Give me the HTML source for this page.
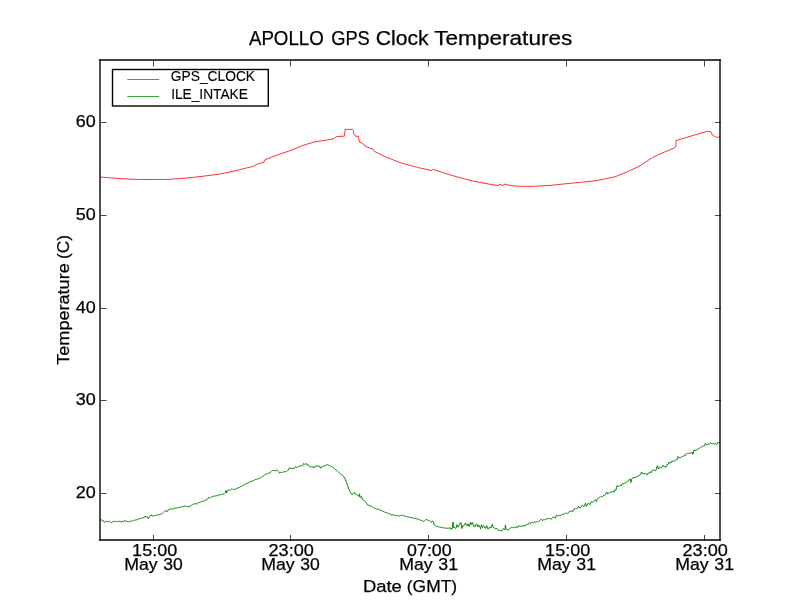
<!DOCTYPE html>
<html><head><meta charset="utf-8"><title>APOLLO GPS Clock Temperatures</title>
<style>
html,body{margin:0;padding:0;background:#fff;}
body{width:800px;height:600px;overflow:hidden;}
svg{display:block;}
text{font-family:"Liberation Sans",sans-serif;fill:#000;stroke:#000;stroke-width:0.25px;white-space:pre;}
.t{will-change:opacity;filter:grayscale(1);}
</style></head>
<body>
<svg width="800" height="600" viewBox="0 0 800 600">
<rect x="0" y="0" width="800" height="600" fill="#ffffff"/>
<clipPath id="c"><rect x="100" y="60" width="620" height="480"/></clipPath>
<g clip-path="url(#c)" fill="none" stroke-linejoin="round" stroke-linecap="butt">
<polyline stroke="#ff0000" stroke-width="0.8" points="100.00,177.00 110.00,177.80 120.00,178.60 136.00,179.40 150.00,179.50 168.00,179.40 185.00,178.20 200.00,176.60 220.00,174.00 236.00,170.60 252.00,166.60 254.00,166.00 258.00,163.80 264.00,162.20 265.00,159.80 272.00,157.00 280.00,154.00 292.00,150.00 303.00,145.40 314.00,142.00 324.00,140.40 333.00,139.00 335.00,137.60 337.00,136.60 344.30,136.20 345.20,129.40 352.50,129.40 353.50,130.50 353.60,133.50 355.50,136.20 358.30,136.40 359.50,142.20 362.50,143.30 365.00,146.00 371.00,148.50 373.00,149.20 374.40,151.40 380.00,154.20 386.00,157.00 393.00,159.80 400.00,162.60 410.00,165.40 420.00,168.00 431.00,170.40 432.00,170.50 433.00,169.40 435.00,170.00 444.00,173.00 454.00,176.00 463.00,178.50 473.00,181.00 485.00,183.40 498.00,185.60 499.60,184.40 503.00,185.40 505.00,184.00 507.00,184.80 516.00,186.20 530.00,186.40 540.00,186.00 550.00,185.40 565.00,183.80 580.00,182.40 595.00,180.80 605.00,179.00 615.00,176.80 628.00,171.50 640.00,165.80 652.50,157.50 660.00,154.00 665.00,151.80 673.80,148.20 675.80,146.20 676.20,140.50 690.00,136.40 700.00,133.40 707.50,131.20 710.80,131.80 712.50,135.00 716.20,137.30 720.00,137.00"/>
<polyline stroke="#008000" stroke-width="1.0" points="100.00,520.25 100.50,520.13 101.00,519.91 101.50,519.75 102.00,520.18 102.50,521.00 103.00,521.06 103.50,520.86 104.00,521.97 104.50,522.49 105.00,521.84 105.50,521.33 106.00,521.50 106.50,521.44 107.00,521.50 107.50,521.38 108.00,521.68 108.50,521.61 109.00,521.62 109.50,521.34 110.00,521.81 110.50,522.27 111.00,522.75 111.50,523.11 112.00,522.56 112.50,521.88 113.00,521.47 113.50,521.18 114.00,521.67 114.50,521.44 115.00,521.39 115.50,521.64 116.00,521.22 116.50,521.53 117.00,521.12 117.50,521.32 118.00,521.22 118.50,521.60 119.00,521.63 119.50,521.30 120.00,521.46 120.50,521.29 121.00,522.01 121.50,522.31 122.00,521.64 122.50,520.98 123.00,521.33 123.50,521.63 124.00,521.35 124.50,520.49 125.00,520.25 125.50,520.65 126.00,521.41 126.50,521.45 127.00,521.41 127.50,521.40 128.00,521.25 128.50,521.57 129.00,521.45 129.50,521.58 130.00,521.28 130.50,520.98 131.00,521.19 131.50,521.39 132.00,521.01 132.50,520.87 133.00,520.66 133.50,520.52 134.00,520.47 134.50,520.18 135.00,520.42 135.50,520.00 136.00,519.89 136.50,519.89 137.00,519.74 137.50,519.37 138.00,519.29 138.50,519.18 139.00,518.92 139.50,518.58 140.00,518.72 140.50,518.60 141.00,518.39 141.50,518.07 142.00,518.01 142.50,517.81 143.00,517.69 143.50,517.73 144.00,517.64 144.50,516.70 145.00,515.99 145.50,516.54 146.00,517.14 146.50,517.05 147.00,516.90 147.50,516.89 148.00,518.05 148.50,518.60 149.00,517.58 149.50,516.52 150.00,516.40 150.50,515.54 151.00,514.70 151.50,515.12 152.00,516.16 152.50,515.93 153.00,516.07 153.50,515.82 154.00,515.91 154.50,515.55 155.00,515.47 155.50,515.44 156.00,515.43 156.50,515.26 157.00,514.91 157.50,514.96 158.00,514.82 158.50,514.64 159.00,514.48 159.50,514.65 160.00,514.27 160.50,514.09 161.00,514.14 161.50,513.82 162.00,513.40 162.50,513.12 163.00,512.69 163.50,512.28 164.00,511.97 164.50,511.49 165.00,510.99 165.50,510.63 166.00,510.45 166.50,511.36 167.00,511.86 167.50,510.91 168.00,510.10 168.50,509.82 169.00,509.64 169.50,509.82 170.00,508.89 170.50,508.36 171.00,508.70 171.50,509.20 172.00,509.06 172.50,509.01 173.00,508.91 173.50,508.72 174.00,508.65 174.50,508.37 175.00,508.43 175.50,508.08 176.00,508.14 176.50,508.12 177.00,508.05 177.50,508.01 178.00,507.49 178.50,507.65 179.00,507.58 179.50,507.44 180.00,507.09 180.50,507.13 181.00,507.18 181.50,506.66 182.00,506.78 182.50,506.73 183.00,506.40 183.50,506.43 184.00,506.11 184.50,506.02 185.00,505.90 185.50,506.10 186.00,506.15 186.50,506.35 187.00,506.21 187.50,506.38 188.00,506.60 188.50,506.63 189.00,507.31 189.50,506.29 190.00,505.89 190.50,505.74 191.00,505.47 191.50,505.32 192.00,504.92 192.50,504.43 193.00,504.23 193.50,504.22 194.00,503.90 194.50,503.92 195.00,503.67 195.50,503.41 196.00,504.12 196.50,504.27 197.00,503.45 197.50,503.17 198.00,502.55 198.50,502.71 199.00,502.60 199.50,502.36 200.00,502.00 200.50,502.15 201.00,501.68 201.50,501.51 202.00,501.45 202.50,501.41 203.00,501.18 203.50,501.07 204.00,500.74 204.50,500.60 205.00,500.30 205.50,500.23 206.00,500.16 206.50,499.82 207.00,499.64 207.50,499.23 208.00,498.16 208.50,497.31 209.00,497.65 209.50,498.25 210.00,497.92 210.50,497.83 211.00,497.31 211.50,497.03 212.00,496.66 212.50,496.50 213.00,496.48 213.50,496.21 214.00,496.19 214.50,496.19 215.00,495.98 215.50,495.84 216.00,495.92 216.50,495.71 217.00,495.65 217.50,495.64 218.00,495.54 218.50,495.26 219.00,495.12 219.50,495.10 220.00,494.92 220.50,494.58 221.00,494.84 221.50,494.56 222.00,494.53 222.50,494.17 223.00,494.34 223.50,493.99 224.00,493.78 224.50,493.22 225.00,492.97 225.50,492.55 226.00,490.32 226.50,493.14 227.00,491.25 227.50,490.91 228.00,490.28 228.50,490.07 229.00,490.11 229.50,490.11 230.00,490.11 230.50,489.99 231.00,489.60 231.50,489.14 232.00,488.67 232.50,488.95 233.00,489.45 233.50,489.47 234.00,489.25 234.50,489.22 235.00,488.97 235.50,488.97 236.00,488.69 236.50,488.37 237.00,488.35 237.50,488.22 238.00,487.87 238.50,487.71 239.00,487.32 239.50,487.53 240.00,487.18 240.50,486.71 241.00,486.47 241.50,486.37 242.00,486.20 242.50,485.81 243.00,485.60 243.50,485.12 244.00,484.81 244.50,484.79 245.00,484.46 245.50,484.15 246.00,484.05 246.50,483.54 247.00,483.35 247.50,483.27 248.00,483.12 248.50,482.65 249.00,482.60 249.50,482.08 250.00,481.94 250.50,481.68 251.00,481.31 251.50,481.33 252.00,481.21 252.50,480.88 253.00,480.69 253.50,480.67 254.00,480.15 254.50,479.92 255.00,479.82 255.50,479.56 256.00,479.66 256.50,479.35 257.00,479.04 257.50,478.89 258.00,479.14 258.50,478.55 259.00,478.36 259.50,478.31 260.00,478.18 260.50,477.79 261.00,477.32 261.50,476.96 262.00,476.83 262.50,476.42 263.00,475.89 263.50,475.90 264.00,475.51 264.50,475.06 265.00,474.72 265.50,474.59 266.00,474.29 266.50,474.03 267.00,474.04 267.50,473.64 268.00,473.67 268.50,473.26 269.00,473.24 269.50,473.00 270.00,472.79 270.50,472.01 271.00,471.54 271.50,471.19 272.00,470.70 272.50,470.33 273.00,470.48 273.50,470.56 274.00,470.70 274.50,470.44 275.00,470.88 275.50,470.83 276.00,470.70 276.50,469.93 277.00,469.80 277.50,470.53 278.00,471.09 278.50,471.53 279.00,472.50 279.50,473.27 280.00,472.87 280.50,472.18 281.00,472.14 281.50,472.35 282.00,472.38 282.50,472.50 283.00,472.04 283.50,471.39 284.00,471.63 284.50,471.93 285.00,472.07 285.50,471.61 286.00,471.61 286.50,471.54 287.00,470.98 287.50,470.50 288.00,470.12 288.50,470.09 289.00,468.68 289.50,467.65 290.00,468.10 290.50,468.56 291.00,468.44 291.50,468.35 292.00,468.07 292.50,468.23 293.00,468.38 293.50,468.35 294.00,468.39 294.50,468.31 295.00,467.52 295.50,466.68 296.00,466.87 296.50,467.49 297.00,467.07 297.50,467.12 298.00,466.74 298.50,466.54 299.00,466.41 299.50,466.09 300.00,465.69 300.50,465.85 301.00,465.65 301.50,465.93 302.00,465.96 302.50,465.81 303.00,464.88 303.50,463.51 304.00,463.96 304.50,464.30 305.00,464.21 305.50,463.99 306.00,463.47 306.50,464.11 307.00,464.02 307.50,465.10 308.00,464.73 308.50,465.46 309.00,466.35 309.50,466.57 310.00,466.82 310.50,466.73 311.00,466.94 311.50,466.81 312.00,466.77 312.50,466.86 313.00,466.60 313.50,467.54 314.00,468.05 314.50,467.25 315.00,466.21 315.50,466.29 316.00,466.05 316.50,466.08 317.00,466.11 317.50,465.99 318.00,466.19 318.50,466.19 319.00,466.22 319.50,466.17 320.00,466.99 320.50,468.05 321.00,467.83 321.50,466.94 322.00,467.24 322.50,466.76 323.00,466.53 323.50,466.12 324.00,466.53 324.50,466.33 325.00,465.91 325.50,465.05 326.00,465.06 326.50,464.92 327.00,464.82 327.50,464.78 328.00,465.06 328.50,465.04 329.00,465.38 329.50,465.63 330.00,465.83 330.50,466.02 331.00,466.19 331.50,466.42 332.00,466.72 332.50,466.95 333.00,467.34 333.50,467.73 334.00,468.21 334.50,468.63 335.00,469.10 335.50,469.52 336.00,469.91 336.50,470.39 337.00,470.76 337.50,471.29 338.00,471.73 338.50,472.03 339.00,472.53 339.50,472.88 340.00,473.40 340.50,473.82 341.00,474.18 341.50,474.66 342.00,475.01 342.50,475.42 343.00,475.84 343.50,476.28 344.00,476.96 344.50,477.93 345.00,478.83 345.50,479.85 346.00,481.16 346.50,482.48 347.00,483.82 347.50,485.31 348.00,486.72 348.50,488.05 349.00,489.20 349.50,490.30 350.00,491.39 350.50,492.25 351.00,493.40 351.50,494.38 352.00,494.19 352.50,494.24 353.00,493.91 353.50,493.99 354.00,493.27 354.50,492.50 355.00,493.22 355.50,494.09 356.00,494.40 356.50,494.58 357.00,495.24 357.50,495.27 358.00,495.42 358.50,495.84 359.00,496.37 359.50,493.76 360.00,497.35 360.50,497.37 361.00,496.74 361.50,496.41 362.00,497.99 362.50,499.57 363.00,499.93 363.50,500.08 364.00,500.54 364.50,500.90 365.00,501.31 365.50,502.00 366.00,502.60 366.50,503.30 367.00,504.07 367.50,504.69 368.00,505.61 368.50,505.33 369.00,504.98 369.50,505.31 370.00,505.55 370.50,505.85 371.00,506.22 371.50,506.25 372.00,506.49 372.50,507.00 373.00,507.23 373.50,507.55 374.00,507.86 374.50,508.08 375.00,508.47 375.50,508.58 376.00,508.96 376.50,509.09 377.00,509.21 377.50,509.54 378.00,509.21 378.50,508.73 379.00,509.34 379.50,510.10 380.00,510.33 380.50,510.31 381.00,510.51 381.50,510.57 382.00,511.17 382.50,511.18 383.00,511.44 383.50,511.63 384.00,511.87 384.50,512.05 385.00,512.17 385.50,512.44 386.00,512.55 386.50,512.84 387.00,512.81 387.50,513.00 388.00,513.29 388.50,513.52 389.00,513.57 389.50,513.66 390.00,513.89 390.50,514.02 391.00,514.87 391.50,515.29 392.00,515.14 392.50,514.78 393.00,514.79 393.50,515.07 394.00,515.22 394.50,515.21 395.00,515.25 395.50,515.46 396.00,515.41 396.50,515.63 397.00,515.58 397.50,515.65 398.00,515.91 398.50,515.98 399.00,516.15 399.50,515.84 400.00,515.79 400.50,515.58 401.00,515.43 401.50,515.35 402.00,515.49 402.50,515.24 403.00,515.38 403.50,515.54 404.00,515.56 404.50,515.94 405.00,515.99 405.50,516.26 406.00,516.31 406.50,516.62 407.00,516.62 407.50,516.96 408.00,516.95 408.50,517.08 409.00,517.25 409.50,517.30 410.00,517.37 410.50,517.55 411.00,517.65 411.50,517.53 412.00,517.82 412.50,517.93 413.00,517.88 413.50,518.09 414.00,518.03 414.50,518.42 415.00,518.38 415.50,518.51 416.00,518.76 416.50,518.75 417.00,518.94 417.50,518.90 418.00,519.06 418.50,519.10 419.00,519.34 419.50,519.58 420.00,520.07 420.50,520.75 421.00,520.45 421.50,520.27 422.00,520.57 422.50,520.92 423.00,521.16 423.50,521.37 424.00,521.35 424.50,520.85 425.00,520.45 425.50,520.16 426.00,519.55 426.50,519.54 427.00,519.93 427.50,520.03 428.00,520.33 428.50,520.45 429.00,520.95 429.50,520.78 430.00,521.14 430.50,521.47 431.00,522.07 431.50,522.27 432.00,521.95 432.50,521.16 433.00,521.41 433.50,522.14 434.00,524.68 434.50,524.93 435.00,525.31 435.50,525.77 436.00,526.11 436.50,526.32 437.00,526.42 437.50,526.39 438.00,526.69 438.50,526.71 439.00,526.94 439.50,527.11 440.00,527.12 440.50,527.21 441.00,527.54 441.50,527.57 442.00,527.55 442.50,527.38 443.00,527.75 443.50,527.89 444.00,528.01 444.50,527.91 445.00,527.98 445.50,528.08 446.00,528.28 446.50,528.15 447.00,528.33 447.50,528.32 448.00,528.51 448.50,528.22 449.00,528.25 449.50,528.01 450.00,527.87 450.50,527.79 451.00,529.38 451.50,528.83 452.00,529.05 452.50,527.48 453.00,521.93 453.50,527.66 454.00,526.93 454.50,527.37 455.00,527.53 455.50,528.31 456.00,528.28 456.50,527.44 457.00,524.60 457.50,526.65 458.00,527.16 458.50,526.73 459.00,525.36 459.50,524.62 460.00,522.98 460.50,523.30 461.00,522.62 461.50,525.89 462.00,528.52 462.50,526.31 463.00,525.33 463.50,526.17 464.00,525.45 464.50,524.85 465.00,523.90 465.50,522.81 466.00,524.91 466.50,524.99 467.00,525.81 467.50,525.63 468.00,523.69 468.50,524.11 469.00,526.68 469.50,526.30 470.00,523.91 470.50,522.15 471.00,524.28 471.50,524.44 472.00,522.69 472.50,522.67 473.00,524.09 473.50,526.04 474.00,525.79 474.50,526.09 475.00,526.94 475.50,524.89 476.00,524.63 476.50,524.17 477.00,524.15 477.50,526.54 478.00,526.94 478.50,526.10 479.00,525.19 479.50,526.50 480.00,527.13 480.50,529.04 481.00,526.40 481.50,524.73 482.00,526.20 482.50,527.69 483.00,526.75 483.50,525.69 484.00,525.99 484.50,526.61 485.00,528.00 485.50,528.39 486.00,527.12 486.50,525.86 487.00,525.95 487.50,528.60 488.00,529.15 488.50,528.31 489.00,527.54 489.50,527.85 490.00,527.52 490.50,527.22 491.00,528.09 491.50,526.52 492.00,524.69 492.50,524.42 493.00,526.89 493.50,527.50 494.00,527.77 494.50,528.22 495.00,528.11 495.50,528.68 496.00,528.57 496.50,528.46 497.00,528.66 497.50,528.76 498.00,530.01 498.50,530.43 499.00,529.94 499.50,530.02 500.00,530.64 500.50,531.20 501.00,530.38 501.50,530.62 502.00,530.61 502.50,530.41 503.00,529.39 503.50,528.53 504.00,529.09 504.50,529.78 505.00,529.61 505.50,524.91 506.00,529.35 506.50,529.59 507.00,529.81 507.50,529.85 508.00,529.87 508.50,529.60 509.00,529.32 509.50,528.85 510.00,528.56 510.50,528.09 511.00,528.19 511.50,527.44 512.00,527.72 512.50,527.67 513.00,527.84 513.50,527.61 514.00,527.35 514.50,527.19 515.00,527.27 515.50,527.37 516.00,526.67 516.50,526.77 517.00,527.71 517.50,527.71 518.00,527.10 518.50,525.91 519.00,525.49 519.50,526.25 520.00,526.61 520.50,526.31 521.00,526.43 521.50,526.02 522.00,526.03 522.50,526.19 523.00,526.10 523.50,525.74 524.00,526.49 524.50,526.18 525.00,525.02 525.50,525.03 526.00,525.13 526.50,524.58 527.00,524.64 527.50,524.40 528.00,523.89 528.50,524.21 529.00,523.21 529.50,522.67 530.00,523.40 530.50,523.74 531.00,523.39 531.50,522.71 532.00,521.93 532.50,522.53 533.00,522.61 533.50,523.00 534.00,522.39 534.50,521.81 535.00,521.63 535.50,522.05 536.00,521.89 536.50,521.77 537.00,521.56 537.50,521.54 538.00,521.37 538.50,521.61 539.00,521.26 539.50,520.90 540.00,520.05 540.50,519.66 541.00,519.23 541.50,519.19 542.00,519.76 542.50,520.57 543.00,519.86 543.50,519.80 544.00,519.45 544.50,519.75 545.00,519.42 545.50,519.22 546.00,519.05 546.50,519.19 547.00,518.87 547.50,518.64 548.00,518.93 548.50,518.39 549.00,518.27 549.50,518.97 550.00,518.30 550.50,518.92 551.00,519.41 551.50,518.85 552.00,518.23 552.50,517.62 553.00,516.95 553.50,517.02 554.00,517.10 554.50,517.26 555.00,517.89 555.50,518.08 556.00,516.37 556.50,515.14 557.00,515.34 557.50,515.99 558.00,515.60 558.50,515.64 559.00,515.58 559.50,515.37 560.00,515.40 560.50,515.48 561.00,515.21 561.50,514.74 562.00,514.50 562.50,514.37 563.00,514.15 563.50,514.21 564.00,514.13 564.50,513.94 565.00,513.79 565.50,513.53 566.00,513.22 566.50,512.85 567.00,513.09 567.50,513.52 568.00,513.55 568.50,512.63 569.00,511.63 569.50,511.51 570.00,511.50 570.50,511.20 571.00,510.96 571.50,510.72 572.00,511.50 572.50,512.01 573.00,510.87 573.50,509.48 574.00,508.90 574.50,508.97 575.00,509.11 575.50,508.54 576.00,508.42 576.50,508.65 577.00,508.37 577.50,508.15 578.00,507.33 578.50,506.12 579.00,506.97 579.50,507.74 580.00,507.85 580.50,507.73 581.00,506.70 581.50,505.84 582.00,505.41 582.50,505.19 583.00,505.92 583.50,506.39 584.00,506.43 584.50,506.12 585.00,504.41 585.50,503.05 586.00,504.87 586.50,506.35 587.00,505.50 587.50,504.14 588.00,503.58 588.50,503.46 589.00,503.35 589.50,504.15 590.00,504.75 590.50,503.43 591.00,502.10 591.50,501.92 592.00,501.95 592.50,502.14 593.00,501.78 593.50,501.65 594.00,501.34 594.50,500.40 595.00,500.33 595.50,499.94 596.00,500.90 596.50,501.43 597.00,499.81 597.50,498.63 598.00,498.39 598.50,497.83 599.00,497.52 599.50,497.29 600.00,497.39 600.50,496.82 601.00,497.01 601.50,496.58 602.00,496.50 602.50,496.45 603.00,495.79 603.50,495.54 604.00,495.56 604.50,495.02 605.00,494.83 605.50,494.70 606.00,493.39 606.50,491.94 607.00,492.78 607.50,493.84 608.00,493.74 608.50,492.83 609.00,493.25 609.50,492.96 610.00,492.35 610.50,492.06 611.00,492.22 611.50,491.84 612.00,491.74 612.50,491.67 613.00,490.97 613.50,491.76 614.00,492.30 614.50,490.98 615.00,489.55 615.50,490.07 616.00,490.14 616.50,487.58 617.00,485.67 617.50,485.84 618.00,486.74 618.50,486.18 619.00,486.31 619.50,485.75 620.00,485.56 620.50,485.13 621.00,485.92 621.50,485.70 622.00,483.76 622.50,483.42 623.00,484.13 623.50,483.64 624.00,483.39 624.50,483.22 625.00,482.85 625.50,483.00 626.00,482.43 626.50,482.48 627.00,482.16 627.50,481.38 628.00,481.28 628.50,480.82 629.00,480.34 629.50,479.16 630.00,478.92 630.50,481.48 631.00,482.39 631.50,479.76 632.00,478.37 632.50,478.21 633.00,478.17 633.50,477.29 634.00,477.87 634.50,477.43 635.00,477.61 635.50,477.06 636.00,476.81 636.50,476.83 637.00,476.89 637.50,476.51 638.00,475.75 638.50,476.07 639.00,475.33 639.50,475.17 640.00,474.85 640.50,474.43 641.00,473.16 641.50,472.03 642.00,472.77 642.50,473.94 643.00,473.84 643.50,473.57 644.00,473.79 644.50,473.98 645.00,473.94 645.50,473.67 646.00,473.66 646.50,474.43 647.00,475.08 647.50,474.38 648.00,473.06 648.50,472.96 649.00,473.20 649.50,473.12 650.00,473.01 650.50,471.73 651.00,472.47 651.50,472.02 652.00,471.66 652.50,470.21 653.00,469.71 653.50,469.78 654.00,470.33 654.50,470.28 655.00,470.81 655.50,470.46 656.00,470.17 656.50,468.82 657.00,466.39 657.50,465.85 658.00,468.05 658.50,468.99 659.00,467.67 659.50,466.86 660.00,467.38 660.50,467.66 661.00,467.70 661.50,467.46 662.00,467.18 662.50,466.31 663.00,465.13 663.50,465.79 664.00,466.67 664.50,466.50 665.00,466.31 665.50,467.34 666.00,467.26 666.50,466.31 667.00,464.75 667.50,464.77 668.00,464.59 668.50,463.41 669.00,462.01 669.50,462.48 670.00,463.35 670.50,462.83 671.00,462.79 671.50,461.21 672.00,460.65 672.50,461.11 673.00,461.69 673.50,461.19 674.00,461.07 674.50,460.88 675.00,460.65 675.50,460.29 676.00,459.99 676.50,459.78 677.00,459.74 677.50,457.58 678.00,456.44 678.50,457.10 679.00,458.18 679.50,457.69 680.00,457.86 680.50,457.55 681.00,457.27 681.50,456.97 682.00,456.92 682.50,456.71 683.00,456.53 683.50,456.10 684.00,456.16 684.50,455.52 685.00,455.85 685.50,454.43 686.00,454.38 686.50,453.70 687.00,453.64 687.50,453.10 688.00,453.67 688.50,452.91 689.00,453.53 689.50,453.13 690.00,452.95 690.50,452.94 691.00,453.21 691.50,452.86 692.00,452.14 692.50,453.92 693.00,454.39 693.50,451.71 694.00,449.86 694.50,449.99 695.00,450.99 695.50,450.69 696.00,450.20 696.50,450.15 697.00,449.51 697.50,449.44 698.00,448.96 698.50,448.70 699.00,448.78 699.50,448.09 700.00,447.52 700.50,447.38 701.00,446.91 701.50,446.81 702.00,446.63 702.50,446.42 703.00,446.22 703.50,445.89 704.00,445.89 704.50,445.81 705.00,444.23 705.50,443.31 706.00,444.02 706.50,445.13 707.00,444.92 707.50,444.39 708.00,444.37 708.50,443.89 709.00,443.88 709.50,444.03 710.00,443.34 710.50,442.74 711.00,443.06 711.50,443.57 712.00,443.88 712.50,443.72 713.00,443.83 713.50,443.78 714.00,443.89 714.50,443.88 715.00,443.92 715.50,443.66 716.00,443.95 716.50,444.63 717.00,444.21 717.50,442.50 718.00,441.96 718.50,442.71 719.00,443.06 719.50,442.78 720.00,442.54"/>
</g>
<g stroke="#000" stroke-width="1" stroke-opacity="0.72" fill="none">
<line x1="153.5" y1="541" x2="153.5" y2="535"/><line x1="153.5" y1="61" x2="153.5" y2="66.5"/>
<line x1="290.5" y1="541" x2="290.5" y2="535"/><line x1="290.5" y1="61" x2="290.5" y2="66.5"/>
<line x1="428.5" y1="541" x2="428.5" y2="535"/><line x1="428.5" y1="61" x2="428.5" y2="66.5"/>
<line x1="566.5" y1="541" x2="566.5" y2="535"/><line x1="566.5" y1="61" x2="566.5" y2="66.5"/>
<line x1="704.5" y1="541" x2="704.5" y2="535"/><line x1="704.5" y1="61" x2="704.5" y2="66.5"/>
<line x1="101" y1="122.5" x2="106.6" y2="122.5"/><line x1="721" y1="122.5" x2="715" y2="122.5"/>
<line x1="101" y1="215.5" x2="106.6" y2="215.5"/><line x1="721" y1="215.5" x2="715" y2="215.5"/>
<line x1="101" y1="308.5" x2="106.6" y2="308.5"/><line x1="721" y1="308.5" x2="715" y2="308.5"/>
<line x1="101" y1="400.5" x2="106.6" y2="400.5"/><line x1="721" y1="400.5" x2="715" y2="400.5"/>
<line x1="101" y1="493.5" x2="106.6" y2="493.5"/><line x1="721" y1="493.5" x2="715" y2="493.5"/>
</g>
<g stroke="#000" stroke-width="1.39" stroke-linecap="square" fill="none">
<line x1="100" y1="60" x2="720" y2="60"/><line x1="100" y1="540" x2="720" y2="540"/><line x1="100" y1="60" x2="100" y2="540"/><line x1="720" y1="60" x2="720" y2="540"/>
</g>
<rect x="112.5" y="69.5" width="155.8" height="36.5" fill="#fff" stroke="#000" stroke-width="1.39"/>
<line x1="127.3" y1="79.5" x2="159.2" y2="79.5" stroke="#ff0000" stroke-width="0.75"/>
<line x1="127.3" y1="96.5" x2="159.2" y2="96.5" stroke="#008000" stroke-width="0.75"/>
<g class="t">
<text y="44.80" font-size="20.3"><tspan x="248.92" textLength="74.85" lengthAdjust="spacingAndGlyphs">APOLLO</tspan> <tspan x="331.18" textLength="38.60" lengthAdjust="spacingAndGlyphs">GPS</tspan> <tspan x="375.66" textLength="52.94" lengthAdjust="spacingAndGlyphs">Clock</tspan> <tspan x="434.24" textLength="138.09" lengthAdjust="spacingAndGlyphs">Temperatures</tspan></text>
<text x="75.76" y="127.10" font-size="17.4" textLength="20.00" lengthAdjust="spacingAndGlyphs">60</text>
<text x="75.76" y="220.10" font-size="17.4" textLength="20.00" lengthAdjust="spacingAndGlyphs">50</text>
<text x="75.76" y="313.10" font-size="17.4" textLength="20.00" lengthAdjust="spacingAndGlyphs">40</text>
<text x="75.76" y="405.10" font-size="17.4" textLength="20.00" lengthAdjust="spacingAndGlyphs">30</text>
<text x="75.76" y="498.10" font-size="17.4" textLength="20.00" lengthAdjust="spacingAndGlyphs">20</text>
<text x="132.13" y="556.00" font-size="17.4" textLength="45.09" lengthAdjust="spacingAndGlyphs">15:00</text>
<text y="570.00" font-size="17.4"><tspan x="124.28" textLength="33.44" lengthAdjust="spacingAndGlyphs">May</tspan> <tspan x="163.30" textLength="19.51" lengthAdjust="spacingAndGlyphs">30</tspan></text>
<text x="268.57" y="556.00" font-size="17.4" textLength="45.26" lengthAdjust="spacingAndGlyphs">23:00</text>
<text y="570.00" font-size="17.4"><tspan x="261.28" textLength="33.44" lengthAdjust="spacingAndGlyphs">May</tspan> <tspan x="300.30" textLength="19.51" lengthAdjust="spacingAndGlyphs">30</tspan></text>
<text x="407.11" y="556.00" font-size="17.4" textLength="44.50" lengthAdjust="spacingAndGlyphs">07:00</text>
<text y="570.00" font-size="17.4"><tspan x="399.28" textLength="33.44" lengthAdjust="spacingAndGlyphs">May</tspan> <tspan x="438.30" textLength="19.70" lengthAdjust="spacingAndGlyphs">31</tspan></text>
<text x="545.13" y="556.00" font-size="17.4" textLength="45.09" lengthAdjust="spacingAndGlyphs">15:00</text>
<text y="570.00" font-size="17.4"><tspan x="537.28" textLength="33.44" lengthAdjust="spacingAndGlyphs">May</tspan> <tspan x="576.30" textLength="19.70" lengthAdjust="spacingAndGlyphs">31</tspan></text>
<text x="682.57" y="556.00" font-size="17.4" textLength="45.26" lengthAdjust="spacingAndGlyphs">23:00</text>
<text y="570.00" font-size="17.4"><tspan x="675.28" textLength="33.44" lengthAdjust="spacingAndGlyphs">May</tspan> <tspan x="714.30" textLength="19.70" lengthAdjust="spacingAndGlyphs">31</tspan></text>
<text y="591.80" font-size="17.4"><tspan x="362.92" textLength="38.88" lengthAdjust="spacingAndGlyphs">Date</tspan> <tspan x="406.81" textLength="50.30" lengthAdjust="spacingAndGlyphs">(GMT)</tspan></text>
<text y="69.20" font-size="17.4" transform="rotate(-90)"><tspan x="-364.79" textLength="101.55" lengthAdjust="spacingAndGlyphs">Temperature</tspan> <tspan x="-259.07" textLength="24.15" lengthAdjust="spacingAndGlyphs">(C)</tspan></text>
<text x="170.76" y="80.80" font-size="14.5" style="stroke-width:0.12px" textLength="84.33" lengthAdjust="spacingAndGlyphs">GPS_CLOCK</text>
<text x="171.15" y="98.70" font-size="14.5" style="stroke-width:0.12px" textLength="76.69" lengthAdjust="spacingAndGlyphs">ILE_INTAKE</text>
</g>
</svg>
</body></html>
